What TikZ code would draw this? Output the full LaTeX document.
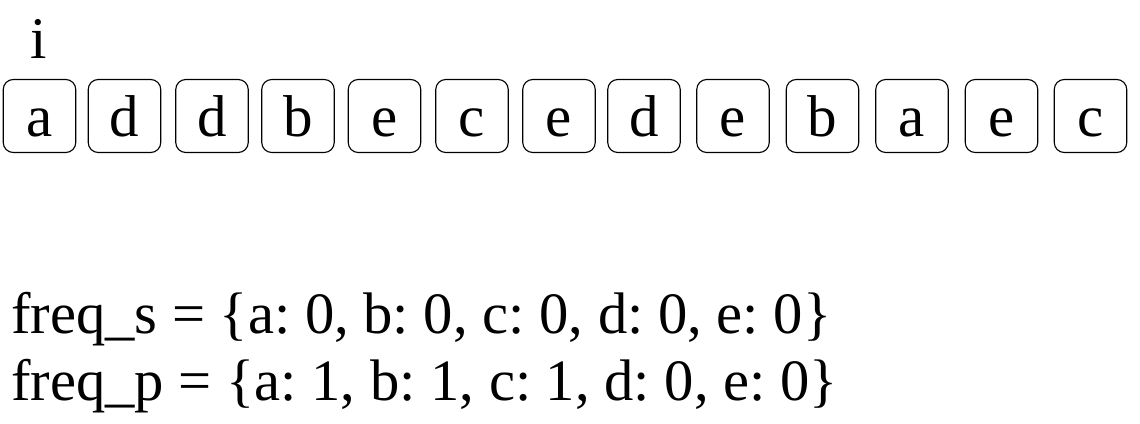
\documentclass[tikz,border=0pt]{standalone}
\usepackage{fontspec}
\setmainfont{Liberation Serif}
\frenchspacing
\begin{document}
\begin{tikzpicture}[x=1pt,y=1pt,
  cell/.style={draw=black, line width=1.1pt, rounded corners=10pt,
    minimum width=72.5pt, minimum height=73pt, inner sep=0pt,
    text height=40pt, text depth=0pt, font=\fontsize{59}{67}\selectfont},
  lbl/.style={inner sep=0pt, anchor=base, font=\fontsize{59}{67}\selectfont},
  txt/.style={inner sep=0pt, anchor=base west, font=\fontsize{58.6}{67}\selectfont}]
\useasboundingbox (0,0) rectangle (1140,-423);
\node[cell] (c1) at (39.5,-116) {a};
\node[cell] (c2) at (124.5,-116) {d};
\node[cell] (c3) at (212,-116) {d};
\node[cell] (c4) at (298,-116) {b};
\node[cell] (c5) at (384.5,-116) {e};
\node[cell] (c6) at (472,-116) {c};
\node[cell] (c7) at (559,-116) {e};
\node[cell] (c8) at (644,-116) {d};
\node[cell] (c9) at (733,-116) {e};
\node[cell] (c10) at (822.5,-116) {b};
\node[cell] (c11) at (912,-116) {a};
\node[cell] (c12) at (1001.5,-116) {e};
\node[cell] (c13) at (1090.5,-116) {c};
\node[lbl] (i) at (39,-58) {i};
\node[txt] (fs) at (11,-333) {freq\_s = \{a: 0, b: 0, c: 0, d: 0, e: 0\}};
\node[txt] (fp) at (11,-400) {freq\_p = \{a: 1, b: 1, c: 1, d: 0, e: 0\}};
\end{tikzpicture}
\end{document}
